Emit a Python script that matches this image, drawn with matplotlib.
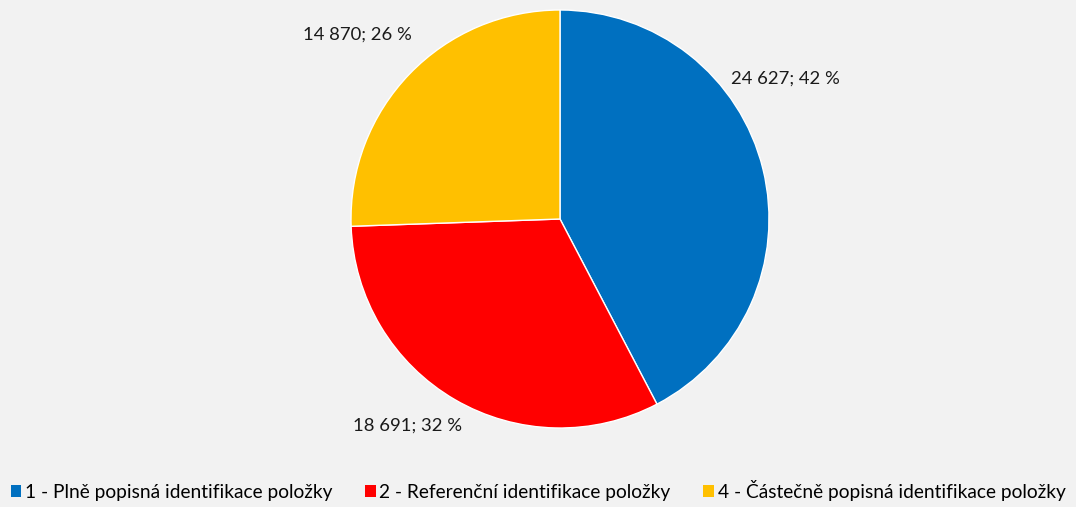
import matplotlib
matplotlib.use("Agg")
import matplotlib.pyplot as plt
from matplotlib.patches import Patch

# data
kategorie = ["1 - Plně popisná identifikace položky",
             "2 - Referenční identifikace položky",
             "4 - Částečně popisná identifikace položky"]
hodnoty = [24627, 18691, 14870]
barvy = ["#0070C0", "#FF0000", "#FFC000"]
# label positions (pie radius = 1)
pozice_popisku = [(1.08, 0.67), (-0.73, -0.99), (-0.97, 0.88)]

plt.rcParams['font.family'] = ['Lato', 'DejaVu Sans']
bg = "#F2F2F2"

fig = plt.figure(figsize=(10.76, 5.07), dpi=100, facecolor=bg)
W, H = 1076, 507
cx, cy, r = 560, 219, 209
ax = fig.add_axes([(cx - r) / W, (H - cy - r) / H, 2 * r / W, 2 * r / H])
ax.set_facecolor(bg)

ax.pie(hodnoty, colors=barvy, startangle=90, counterclock=False,
       wedgeprops=dict(edgecolor="white", linewidth=1.0), radius=1)
ax.set_xlim(-1, 1)
ax.set_ylim(-1, 1)
ax.set_aspect("equal")
ax.axis("off")

celkem = sum(hodnoty)
for v, (x, y) in zip(hodnoty, pozice_popisku):
    txt = f"{v:,}".replace(",", " ") + f"; {round(v / celkem * 100):.0f} %"
    ax.text(x, y, txt, ha="center", va="center", fontsize=13.3, color="#1a1a1a",
            clip_on=False)

handles = [Patch(facecolor=c, edgecolor="none") for c in barvy]
fig.legend(handles, kategorie, loc="lower center", bbox_to_anchor=(0.5, -0.022),
           ncol=3, frameon=False, fontsize=13.8, handlelength=0.55, handleheight=0.55,
           handletextpad=0.2, columnspacing=1.7)

fig.savefig("out.png", facecolor=bg)
